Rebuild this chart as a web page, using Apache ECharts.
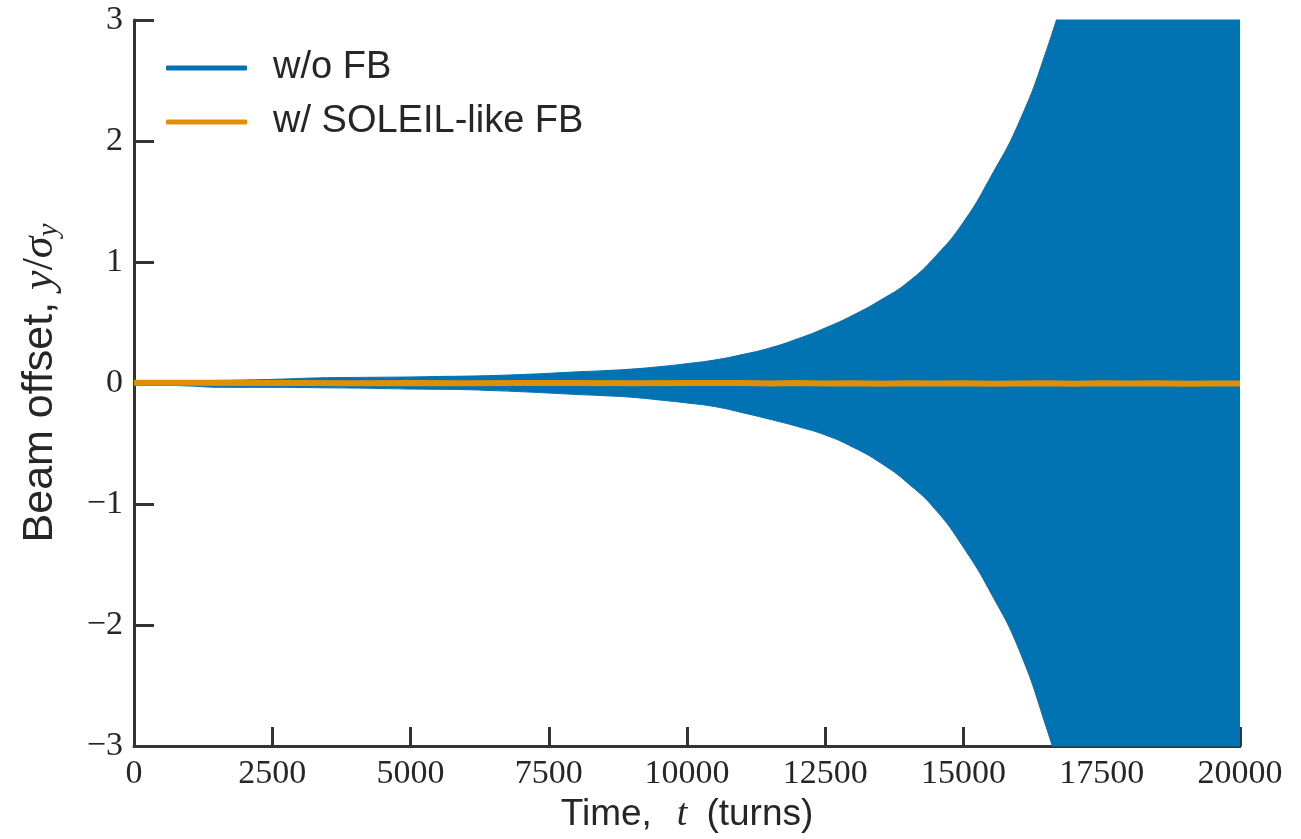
<!DOCTYPE html>
<html>
<head>
<meta charset="utf-8">
<script src="https://cdn.jsdelivr.net/npm/echarts@6/dist/echarts.min.js"></script>
<style>html,body{margin:0;padding:0;background:#fff;}#main{width:1301px;height:839px;}</style>
</head>
<body>
<div id="main"></div>
<script>
// ---- data ----
const seriesNames = ['w/o FB', 'w/ SOLEIL-like FB'];
const xTicks = [0, 2500, 5000, 7500, 10000, 12500, 15000, 17500, 20000];
const yTicks = [-3, -2, -1, 0, 1, 2, 3];

// envelope of the un-damped oscillation (w/o FB)
const envTimes = [0, 500, 1000, 1500, 2000, 2500, 3000, 3500, 4000, 4500, 5000, 5500, 6000, 6500, 7000, 7500,
  8000, 8500, 9000, 9500, 10000, 10500, 11000, 11500, 12000, 12500, 13000, 13500, 14000, 14500, 15000,
  15500, 16000, 16500, 17000, 17500, 18000, 19000, 20000];
const envUpper = [0.02, 0.02, 0.02, 0.022, 0.025, 0.03, 0.038, 0.044, 0.046, 0.048, 0.05, 0.054, 0.057, 0.062, 0.07, 0.08,
  0.092, 0.102, 0.115, 0.135, 0.16, 0.19, 0.235, 0.29, 0.365, 0.455, 0.56, 0.685, 0.835, 1.05, 1.33,
  1.71, 2.15, 2.75, 3.5, 4.3, 5.3, 8.0, 12.0];
const envLower = [-0.02, -0.02, -0.025, -0.035, -0.036, -0.036, -0.037, -0.04, -0.042, -0.046, -0.05, -0.052, -0.055, -0.063, -0.072, -0.083,
  -0.095, -0.105, -0.118, -0.14, -0.165, -0.195, -0.245, -0.3, -0.36, -0.43, -0.53, -0.66, -0.83, -1.05, -1.36,
  -1.74, -2.2, -2.85, -3.6, -4.4, -5.4, -8.0, -12.0];

// damped signal with feedback (w/ SOLEIL-like FB)
const fbTimes = [0, 1000, 2000, 3000, 4000, 5000, 6000, 7000, 8000, 9000, 10000, 11000, 11500, 12000, 12500,
  13000, 13500, 14000, 14500, 15000, 15500, 16000, 16500, 17000, 17500, 18000, 18500, 19000, 19500, 20000];
const fbValues = [0.003, 0.002, 0.0, 0.0, -0.002, 0.0, -0.003, 0.0, 0.0, -0.002, 0.0, 0.0, -0.004, 0.0, -0.005,
  -0.002, -0.006, -0.003, -0.005, -0.002, -0.006, -0.004, -0.002, -0.006, -0.003, -0.005, -0.002, -0.006, -0.004, -0.004];

const BLUE = '#0173B2';
const ORANGE = '#DE8F05';
const AX = '#333333';
const TXT = '#262626';

const upperData = envTimes.map((t, i) => [t, envUpper[i]]);
const lowerData = envTimes.map((t, i) => [t, envLower[i]]);
const fbData = fbTimes.map((t, i) => [t, fbValues[i]]);

const chart = echarts.init(document.getElementById('main'), null, {renderer: 'canvas'});
const fmtY = v => String(v).replace('-', '\u2212');
const fmtX = v => String(v);

chart.setOption({
  animation: false,
  backgroundColor: '#ffffff',
  grid: {left: 134, right: 61, top: 20, bottom: 93, containLabel: false},
  legend: {
    data: seriesNames,
    orient: 'vertical',
    left: 161,
    top: 43,
    padding: 5,
    itemWidth: 81,
    itemHeight: 5,
    itemGap: 14,
    icon: 'roundRect',
    textStyle: {fontFamily: 'Liberation Sans', fontSize: 38, color: TXT, lineHeight: 40, padding: [0, 0, 0, 21]}
  },
  xAxis: {
    type: 'value', min: xTicks[0], max: xTicks[xTicks.length - 1], interval: 2500,
    name: '{a|Time,}{i|t}{a|(turns)}',
    nameLocation: 'middle', nameGap: 44,
    nameTextStyle: {
      rich: {
        a: {fontFamily: 'Liberation Sans', fontSize: 37, color: TXT},
        i: {fontFamily: 'Liberation Serif', fontStyle: 'italic', fontSize: 38, color: TXT, padding: [0, 19, 0, 25]}
      }
    },
    axisLine: {show: true, onZero: false, lineStyle: {color: AX, width: 3}},
    axisTick: {show: true, inside: true, length: 19, lineStyle: {color: AX, width: 3}},
    axisLabel: {fontFamily: 'Liberation Serif', fontSize: 34, color: TXT, margin: 11, formatter: fmtX},
    splitLine: {show: false}
  },
  yAxis: {
    type: 'value', min: yTicks[0], max: yTicks[yTicks.length - 1], interval: 1,
    name: '{a|Beam offset, }{i|y}{m|/}{i|σ}{s|y}',
    nameLocation: 'middle', nameGap: 70,
    nameTextStyle: {
      rich: {
        a: {fontFamily: 'Liberation Sans', fontSize: 43, color: TXT, lineHeight: 48},
        i: {fontFamily: 'Liberation Serif', fontStyle: 'italic', fontSize: 44, color: TXT, lineHeight: 48},
        m: {fontFamily: 'Liberation Serif', fontSize: 44, color: TXT, lineHeight: 48},
        s: {fontFamily: 'Liberation Serif', fontStyle: 'italic', fontSize: 29, color: TXT, lineHeight: 22, verticalAlign: 'bottom'}
      }
    },
    axisLine: {show: true, onZero: false, lineStyle: {color: AX, width: 3}},
    axisTick: {show: true, inside: true, length: 20, lineStyle: {color: AX, width: 3}},
    axisLabel: {fontFamily: 'Liberation Serif', fontSize: 34, color: TXT, margin: 11, formatter: fmtY},
    splitLine: {show: false}
  },
  series: [
    {
      name: seriesNames[0], type: 'line', data: upperData, showSymbol: false, symbol: 'none',
      smooth: 0.5, clip: true, z: 2,
      itemStyle: {color: BLUE}, lineStyle: {color: BLUE, width: 1},
      areaStyle: {color: BLUE, opacity: 1, origin: 0}
    },
    {
      name: seriesNames[0], type: 'line', data: lowerData, showSymbol: false, symbol: 'none',
      smooth: 0.5, clip: true, z: 2,
      itemStyle: {color: BLUE}, lineStyle: {color: BLUE, width: 1},
      areaStyle: {color: BLUE, opacity: 1, origin: 0}
    },
    {
      name: seriesNames[1], type: 'line', data: fbData, showSymbol: false, symbol: 'none',
      clip: true, z: 3,
      itemStyle: {color: ORANGE}, lineStyle: {color: ORANGE, width: 6}
    }
  ]
});
</script>
</body>
</html>
